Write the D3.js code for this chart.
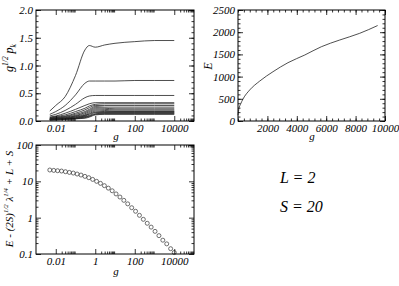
<!DOCTYPE html>
<html>
<head>
<meta charset="utf-8">
<script src="https://cdn.jsdelivr.net/npm/d3@7"></script>
<style>
  body { margin: 0; background: #fff; }
</style>
</head>
<body>
<svg id="fig" width="399" height="286"></svg>
<script>
// ---- data ----
// top left: g^(1/2) p_k against g, one line per k
var gGrid = [0.005, 0.01, 0.03, 0.1, 0.3, 0.5, 1, 3, 10, 100, 1000, 10000];
var pkCurves = [
  [0.18, 0.28, 0.44, 0.82, 1.28, 1.36, 1.33, 1.37, 1.40, 1.43, 1.45, 1.45],
  [0.12, 0.17, 0.28, 0.47, 0.68, 0.72, 0.72, 0.72, 0.72, 0.73, 0.73, 0.73],
  [0.09, 0.12, 0.19, 0.30, 0.42, 0.45, 0.46, 0.46, 0.46, 0.46, 0.46, 0.46],
  [0.07, 0.09, 0.14, 0.21, 0.28, 0.31, 0.33, 0.33, 0.33, 0.33, 0.33, 0.33],
  [0.06, 0.08, 0.11, 0.17, 0.23, 0.27, 0.30, 0.31, 0.31, 0.31, 0.31, 0.31],
  [0.05, 0.07, 0.09, 0.14, 0.20, 0.24, 0.28, 0.28, 0.28, 0.28, 0.28, 0.28],
  [0.05, 0.06, 0.08, 0.12, 0.17, 0.21, 0.26, 0.25, 0.25, 0.25, 0.25, 0.25],
  [0.04, 0.05, 0.07, 0.10, 0.15, 0.19, 0.24, 0.23, 0.22, 0.22, 0.22, 0.22],
  [0.04, 0.05, 0.06, 0.09, 0.13, 0.17, 0.22, 0.21, 0.20, 0.20, 0.20, 0.20],
  [0.03, 0.04, 0.05, 0.08, 0.11, 0.15, 0.20, 0.19, 0.18, 0.18, 0.18, 0.18],
  [0.03, 0.04, 0.05, 0.07, 0.10, 0.13, 0.18, 0.17, 0.17, 0.17, 0.17, 0.17],
  [0.03, 0.03, 0.04, 0.06, 0.09, 0.12, 0.16, 0.16, 0.16, 0.16, 0.16, 0.16],
  [0.02, 0.03, 0.04, 0.05, 0.08, 0.10, 0.15, 0.15, 0.15, 0.15, 0.15, 0.15],
  [0.02, 0.03, 0.04, 0.05, 0.07, 0.09, 0.13, 0.14, 0.14, 0.14, 0.14, 0.14],
  [0.02, 0.02, 0.03, 0.04, 0.06, 0.08, 0.12, 0.13, 0.13, 0.13, 0.13, 0.13],
  [0.02, 0.02, 0.03, 0.04, 0.05, 0.07, 0.11, 0.12, 0.12, 0.12, 0.12, 0.12]
];

// top right: E against g
var gE = [5, 60, 160, 340, 800, 1480, 2380, 3400, 4540, 5670, 6920, 8280, 9500];
var energy = [130, 280, 370, 495, 700, 900, 1110, 1313, 1486, 1673, 1824, 1975, 2150];

// bottom left: E - (2S)^(1/2) lambda^(1/4) + L + S against g
var gS = [0.005, 0.0079, 0.0124, 0.0196, 0.031, 0.049, 0.077, 0.121, 0.19, 0.30, 0.47,
  0.74, 1.17, 1.84, 2.9, 4.6, 7.2, 11.3, 17.8, 28, 44, 70, 110, 173, 272, 429, 676,
  1065, 1680, 2640, 4160, 6560, 10000];
var delta = [20.5, 20, 19.6, 19.2, 18.4, 17.6, 16.9, 15.9, 14.9, 13.7, 12.6, 11.3, 10,
  8.8, 7.6, 6.5, 5.5, 4.5, 3.7, 3.0, 2.4, 1.88, 1.5, 1.16, 0.90, 0.70, 0.55, 0.42,
  0.32, 0.24, 0.19, 0.14, 0.11];

// ticks
var logMajor = [0.01, 1, 100, 10000];
var logMinor = [];
logMajor.forEach(function(m) { for (var i = 2; i <= 9; i++) logMinor.push(m * i); });
var pMajor = [0, 0.5, 1.0, 1.5, 2.0];
var pMinor = d3.range(0, 2.0001, 0.1);
var eXMajor = [2000, 4000, 6000, 8000, 10000];
var eXMinor = d3.range(0, 10001, 400);
var eYMajor = [0, 500, 1000, 1500, 2000, 2500];
var eYMinor = d3.range(0, 2501, 100);
var dMajor = [0.1, 1, 10, 100];
var dMinor = [];
[0.1, 1, 10].forEach(function(m) { for (var i = 2; i <= 9; i++) dMinor.push(m * i); });

var FONT = "Liberation Serif";
var svg = d3.select("#fig");

// frame with inward ticks on all four sides, grace style
function axes(box, xs, ys, xMaj, xMin, yMaj, yMin, xFmt, yFmt) {
  var big = 5, small = 2.5;
  function put(axis, tx, ty, fmt, vals, len) {
    var g = svg.append("g").attr("transform", "translate(" + tx + "," + ty + ")")
      .call(axis.tickValues(vals).tickSize(-len).tickPadding(3).tickFormat(fmt));
    g.select(".domain").remove();
    g.attr("font-size", 11).attr("font-family", FONT);
    g.selectAll("text").attr("font-style", "italic").attr("fill", "#000");
    g.selectAll("line").attr("stroke", "#000").attr("stroke-width", 0.8);
  }
  var none = function() { return ""; };
  put(d3.axisBottom(xs), 0, box.y1, xFmt, xMaj, big);
  put(d3.axisBottom(xs), 0, box.y1, none, xMin, small);
  put(d3.axisTop(xs), 0, box.y0, none, xMaj, big);
  put(d3.axisTop(xs), 0, box.y0, none, xMin, small);
  put(d3.axisLeft(ys), box.x0, 0, yFmt, yMaj, big);
  put(d3.axisLeft(ys), box.x0, 0, none, yMin, small);
  put(d3.axisRight(ys), box.x1, 0, none, yMaj, big);
  put(d3.axisRight(ys), box.x1, 0, none, yMin, small);
  svg.append("rect").attr("x", box.x0).attr("y", box.y0)
    .attr("width", box.x1 - box.x0).attr("height", box.y1 - box.y0)
    .attr("fill", "none").attr("stroke", "#000").attr("stroke-width", 1);
}

function label(x, y, rot, parts, size) {
  var t = svg.append("text").attr("text-anchor", "middle")
    .attr("font-size", size).attr("font-family", FONT).attr("font-style", "italic")
    .attr("transform", "translate(" + x + "," + y + ") rotate(" + rot + ")");
  parts.forEach(function(p) {
    var s = t.append("tspan").text(p[0]);
    if (p[1] == "sup") s.attr("font-size", size * 0.62).attr("dy", -size * 0.45);
    if (p[1] == "sub") s.attr("font-size", size * 0.62).attr("dy", size * 0.3);
    if (p[1] == "back") s.attr("dy", p[2]);
  });
  return t;
}

// ---- top left ----
var b1 = {x0: 36, x1: 194, y0: 10, y1: 121};
var x1 = d3.scaleLog().domain([0.001, 100000]).range([b1.x0, b1.x1]);
var y1 = d3.scaleLinear().domain([0, 2]).range([b1.y1, b1.y0]);
var line1 = d3.line().x(function(d) { return x1(d[0]); }).y(function(d) { return y1(d[1]); })
  .curve(d3.curveMonotoneX);
svg.append("g").selectAll("path").data(pkCurves).join("path")
  .attr("d", function(c) { return line1(c.map(function(v, i) { return [gGrid[i], v]; })); })
  .attr("fill", "none").attr("stroke", "#222").attr("stroke-width", 0.8);
axes(b1, x1, y1, logMajor, logMinor, pMajor, pMinor, String, d3.format(".1f"));
label(116, 140, 0, [["g"]], 11);
label(13, 58, -90, [["g"], ["1/2", "sup"], [" p", "back", 5], ["k", "sub"]], 12);

// ---- top right ----
var b2 = {x0: 238, x1: 385, y0: 10, y1: 121};
var x2 = d3.scaleLinear().domain([0, 10000]).range([b2.x0, b2.x1]);
var y2 = d3.scaleLinear().domain([0, 2500]).range([b2.y1, b2.y0]);
var line2 = d3.line().x(function(d) { return x2(d[0]); }).y(function(d) { return y2(d[1]); })
  .curve(d3.curveMonotoneX);
svg.append("path").attr("d", line2(gE.map(function(g, i) { return [g, energy[i]]; })))
  .attr("fill", "none").attr("stroke", "#222").attr("stroke-width", 0.8);
axes(b2, x2, y2, eXMajor, eXMinor, eYMajor, eYMinor, d3.format("d"), d3.format("d"));
label(312, 140, 0, [["g"]], 11);
label(212, 66, -90, [["E"]], 12);

// ---- bottom left ----
var b3 = {x0: 36, x1: 194, y0: 145, y1: 254};
var x3 = d3.scaleLog().domain([0.001, 100000]).range([b3.x0, b3.x1]);
var y3 = d3.scaleLog().domain([0.1, 100]).range([b3.y1, b3.y0]);
svg.append("g").selectAll("circle").data(gS).join("circle")
  .attr("cx", function(d) { return x3(d); })
  .attr("cy", function(d, i) { return y3(delta[i]); })
  .attr("r", 2).attr("fill", "none").attr("stroke", "#333").attr("stroke-width", 0.7);
axes(b3, x3, y3, logMajor, logMinor, dMajor, dMinor, String, String);
label(116, 275, 0, [["g"]], 11);
label(13, 199, -90, [["E - (2S)"], ["1/2", "sup"], [" \u03bb", "back", 5], ["1/4", "sup"],
  [" + L + S", "back", 5]], 11);

// ---- bottom right: parameters ----
svg.append("text").attr("x", 280).attr("y", 183).attr("font-size", 16)
  .attr("font-family", FONT).attr("font-style", "italic").text("L = 2");
svg.append("text").attr("x", 280).attr("y", 212).attr("font-size", 16)
  .attr("font-family", FONT).attr("font-style", "italic").text("S = 20");
</script>
</body>
</html>
